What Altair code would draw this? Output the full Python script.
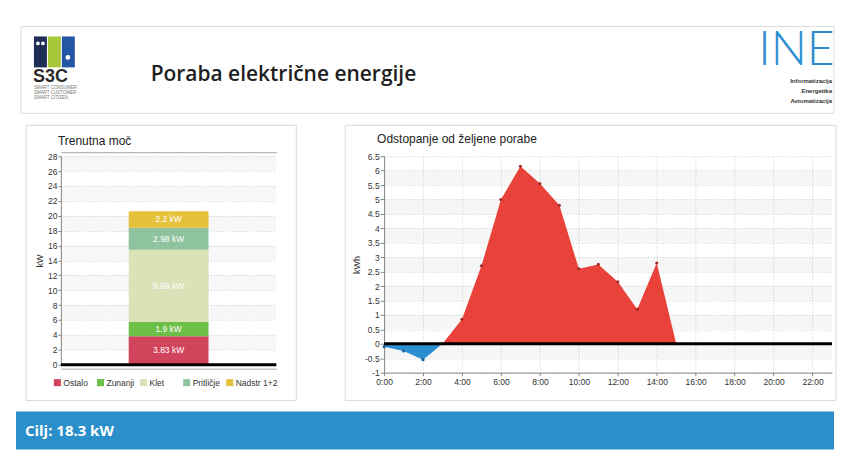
import altair as alt
import pandas as pd

# ---------------- data ----------------
page_title = "Poraba električne energije"
power_title = "Trenutna moč"
dev_title = "Odstopanje od željene porabe"

categories = ["Ostalo", "Zunanji", "Klet", "Pritličje", "Nadstr 1+2"]
power_kw = [3.83, 1.9, 9.69, 2.98, 2.2]

hours = list(range(16))
deviation_kwh = [-0.1, -0.25, -0.55, 0.0, 0.85, 2.7, 5.0, 6.15, 5.55, 4.8,
                 2.6, 2.75, 2.15, 1.2, 2.8, 0.0]

target_kw = 18.3

kw_ticks = list(range(0, 29, 2))
kwh_ticks = [-1, -0.5, 0, 0.5, 1, 1.5, 2, 2.5, 3, 3.5, 4, 4.5, 5, 5.5, 6, 6.5]
hour_ticks = list(range(0, 23, 2))

# ---------------- styles ----------------
seg_colors = ["#d1445c", "#6cbf47", "#dbe2b8", "#8fc39e", "#e6c23c"]
RED = "#e8423a"
BLUE = "#2a8fd1"
FONT = "Liberation Sans"
GRID = "#cfcfcf"
FRAME = "#d9d9d9"
HW = 775  # header / footer view width (origin aligned with left plot)

one = pd.DataFrame({"k": [0]})


def vtext(txt, x, y, **kw):
    return alt.Chart(one).mark_text(**kw).encode(
        x=alt.value(x), y=alt.value(y), text=alt.value(txt))


def vrect(x, x2, y, y2, **kw):
    return alt.Chart(one).mark_rect(**kw).encode(
        x=alt.value(x), x2=alt.value(x2), y=alt.value(y), y2=alt.value(y2))


def vdot(x, y, size, color):
    return alt.Chart(one).mark_circle(color=color, size=size, opacity=1).encode(
        x=alt.value(x), y=alt.value(y))


# ---------------- header ----------------
header = alt.layer(
    vrect(-40, HW, 0, 87, fill="white", stroke="#dcdcdc"),
    vrect(-27, -14, 10, 41, color="#1d2d55"),
    vrect(-13, 0, 10, 41, color="#a8c83a"),
    vrect(1, 14, 10, 41, color="#2456a6"),
    vdot(-23, 17, 14, "white"),
    vdot(-18, 17, 14, "white"),
    vdot(7, 31, 22, "white"),
    vtext("S3C", -28, 56, align="left", baseline="alphabetic", font=FONT,
          fontWeight="bold", fontSize=18, color="#2b2b2b"),
    vtext("SMART CONSUMER", -27, 63, align="left", baseline="alphabetic",
          fontSize=4.5, color="#777"),
    vtext("SMART CUSTOMER", -27, 68, align="left", baseline="alphabetic",
          fontSize=4.5, color="#777"),
    vtext("SMART CITIZEN", -27, 73, align="left", baseline="alphabetic",
          fontSize=4.5, color="#777"),
    vtext(page_title, 90, 55, align="left", baseline="alphabetic",
          font="Open Sans", fontSize=21, fontWeight=600, color="#1e1e1e"),
    vtext("INEA", 699, 1, align="left", baseline="top", font="Lato",
          fontWeight=300, fontSize=48, color="#2a8dd0", limit=78,
          ellipsis="\u200b"),
    vtext("Informatizacija", 773, 57, align="right", baseline="alphabetic",
          fontSize=6, fontWeight="bold", color="#333"),
    vtext("Energetika", 773, 67, align="right", baseline="alphabetic",
          fontSize=6, fontWeight="bold", color="#333"),
    vtext("Avtomatizacija", 773, 77, align="right", baseline="alphabetic",
          fontSize=6, fontWeight="bold", color="#333"),
).properties(width=HW, height=87)

# ---------------- left: current power ----------------
LW, LH = 216, 209
power_df = pd.DataFrame({"cat": categories, "kw": power_kw,
                         "order": list(range(len(categories))),
                         "slot": ["now"] * len(categories)})

ysc_l = alt.Scale(domain=[0, 28], nice=False)
yax_l = alt.Axis(values=kw_ticks, tickCount=40, labelExpr="datum.value + ''",
                 grid=True, gridDash=[1, 2],
                 gridColor=GRID, tickSize=3, tickColor="#888",
                 domainColor="#888", labelFontSize=8.5, labelColor="#333",
                 labelPadding=1, labelOverlap=False, labelFlush=False,
                 titleFontSize=9, titleFontWeight="normal", titleColor="#333",
                 titlePadding=3)
xsc_l = alt.Scale(paddingInner=0, paddingOuter=0)
xax_l = alt.Axis(labels=False, ticks=False, grid=False, domainColor="#aaa",
                 offset=4)
color_l = alt.Scale(domain=categories, range=seg_colors)

frame_l = vrect(-35, 236, -31, 245, fill="transparent", stroke=FRAME)

bands_l = alt.Chart(alt.sequence(2, 28, 4, as_="b")).transform_calculate(
    b2="datum.b + 2").mark_rect(color="#000", opacity=0.03).encode(
    y=alt.Y("b:Q", scale=ysc_l, axis=yax_l, title="kW"), y2="b2:Q",
    x=alt.value(0), x2=alt.value(LW))

stacked = alt.Chart(power_df).transform_stack(
    stack="kw", as_=["y0", "y1"], groupby=["slot"],
    sort=[alt.SortField("order", order="ascending")]
).transform_calculate(mid="(datum.y0 + datum.y1) / 2",
                      label="datum.kw + ' kW'")

bars = stacked.mark_bar(size=80).encode(
    x=alt.X("slot:N", scale=xsc_l, axis=xax_l, title=None),
    y=alt.Y("y0:Q", scale=ysc_l, axis=yax_l, title="kW"),
    y2="y1:Q",
    color=alt.Color("cat:N", scale=color_l, legend=None),
)

labels = stacked.mark_text(color="white", fontSize=8.5, font=FONT).encode(
    x=alt.X("slot:N", scale=xsc_l, axis=xax_l, title=None),
    y=alt.Y("mid:Q", scale=ysc_l, axis=yax_l, title="kW"),
    text="label:N")

zero_l = alt.Chart(one).mark_rule(color="black", strokeWidth=3).encode(
    y=alt.datum(0, scale=ysc_l))

# legend row drawn from the category list through a band scale
leg_scale = alt.Scale(type="band", domain=categories, paddingInner=0,
                      paddingOuter=0)
leg_x = alt.X("cat:N", sort=categories, bandPosition=0, axis=None, title=None,
              scale=leg_scale)
leg_sq = alt.Chart(power_df).mark_square(size=50, opacity=1, xOffset=-3.5).encode(
    x=leg_x, y=alt.value(227),
    color=alt.Color("cat:N", scale=color_l, legend=None))
leg_tx = alt.Chart(power_df).mark_text(align="left", baseline="middle",
                                       fontSize=8.5, color="#333",
                                       xOffset=2.5).encode(
    x=leg_x, y=alt.value(227.5), text="cat:N")

left = alt.layer(frame_l, bands_l, bars, labels, zero_l, leg_sq, leg_tx
                 ).resolve_scale(x="independent").properties(
    width=LW, height=LH,
    title=alt.TitleParams(power_title, anchor="start", frame="group", dx=-3,
                          offset=-23, fontSize=12, fontWeight="normal",
                          font=FONT, color="#222"))

# ---------------- right: deviation ----------------
RW, RH = 449, 217
dev_df = pd.DataFrame({"hour": hours, "dev": deviation_kwh})

ysc_r = alt.Scale(domain=[-1, 6.5], nice=False, zero=False)
xsc_r = alt.Scale(domain=[0, 23], nice=False)
yax_r = alt.Axis(values=kwh_ticks, tickCount=40, labelExpr="datum.value + ''",
                 grid=True, gridDash=[1, 2], gridColor=GRID, tickSize=4,
                 tickColor="#888", domainColor="#888", labelFontSize=8.5,
                 labelColor="#333", labelPadding=1, labelOverlap=False,
                 labelFlush=False, titleFontSize=9, titleFontWeight="normal",
                 titleColor="#333", titlePadding=3)
xax_r = alt.Axis(values=hour_ticks, tickCount=40,
                 labelExpr="datum.value + ':00'", grid=True, gridDash=[1, 2],
                 gridColor=GRID, tickSize=3, tickColor="#888",
                 domainColor="#888", labelFontSize=8.5, labelColor="#333",
                 labelPadding=2, labelOverlap=False, labelFlush=False)

frame_r = vrect(-39, 453, -31, 245, fill="transparent", stroke=FRAME)

bands_r = alt.Chart(alt.sequence(-0.5, 6.0, 1.0, as_="b")).transform_calculate(
    b2="datum.b + 0.5").mark_rect(color="#000", opacity=0.035).encode(
    y=alt.Y("b:Q", scale=ysc_r, axis=yax_r, title="kWh"), y2="b2:Q",
    x=alt.value(0), x2=alt.value(RW))

base = alt.Chart(dev_df).transform_calculate(
    pos="max(datum.dev, 0)", neg="min(datum.dev, 0)")
xr = alt.X("hour:Q", scale=xsc_r, axis=xax_r, title=None)

area_pos = base.mark_area(color=RED, opacity=1).encode(
    x=xr, y=alt.Y("pos:Q", scale=ysc_r, axis=yax_r, title="kWh"),
    y2=alt.datum(0))
area_neg = base.mark_area(color=BLUE, opacity=1).encode(
    x=xr, y=alt.Y("neg:Q", scale=ysc_r, axis=yax_r, title="kWh"),
    y2=alt.datum(0))
pts = base.mark_circle(size=10, opacity=1).encode(
    x=xr, y=alt.Y("dev:Q", scale=ysc_r, axis=yax_r, title="kWh"),
    color=alt.condition("datum.dev < 0", alt.value("#1d5f9a"),
                        alt.value("#a52c26")))
zero_r = alt.Chart(one).mark_rule(color="black", strokeWidth=3).encode(
    y=alt.datum(0, scale=ysc_r))

right = alt.layer(frame_r, bands_r, area_pos, area_neg, pts, zero_r).properties(
    width=RW, height=RH,
    title=alt.TitleParams(dev_title, anchor="start", frame="group", dx=-7,
                          offset=-21, fontSize=12, fontWeight="normal",
                          font=FONT, color="#222"))

row = alt.hconcat(left, right, spacing=47)

# ---------------- footer ----------------
footer_df = pd.DataFrame({"t": [f"Cilj: {target_kw} kW"]})
footer = alt.layer(
    vrect(-45, HW, 0, 38, color="#2b8fc9"),
    alt.Chart(footer_df).mark_text(align="left", baseline="middle",
                                   font="Open Sans", fontWeight="bold",
                                   fontSize=15, color="white").encode(
        x=alt.value(-36), y=alt.value(19), text="t:N"),
).properties(width=HW, height=38)

chart = alt.vconcat(
    alt.vconcat(header, row, spacing=10), footer, spacing=9
).properties(
    padding={"left": 7, "top": 17, "right": 0, "bottom": 0},
    background="white",
).configure(font=FONT).configure_view(stroke="transparent")

chart.save("out.html", embed_options={"renderer": "svg", "actions": False})
